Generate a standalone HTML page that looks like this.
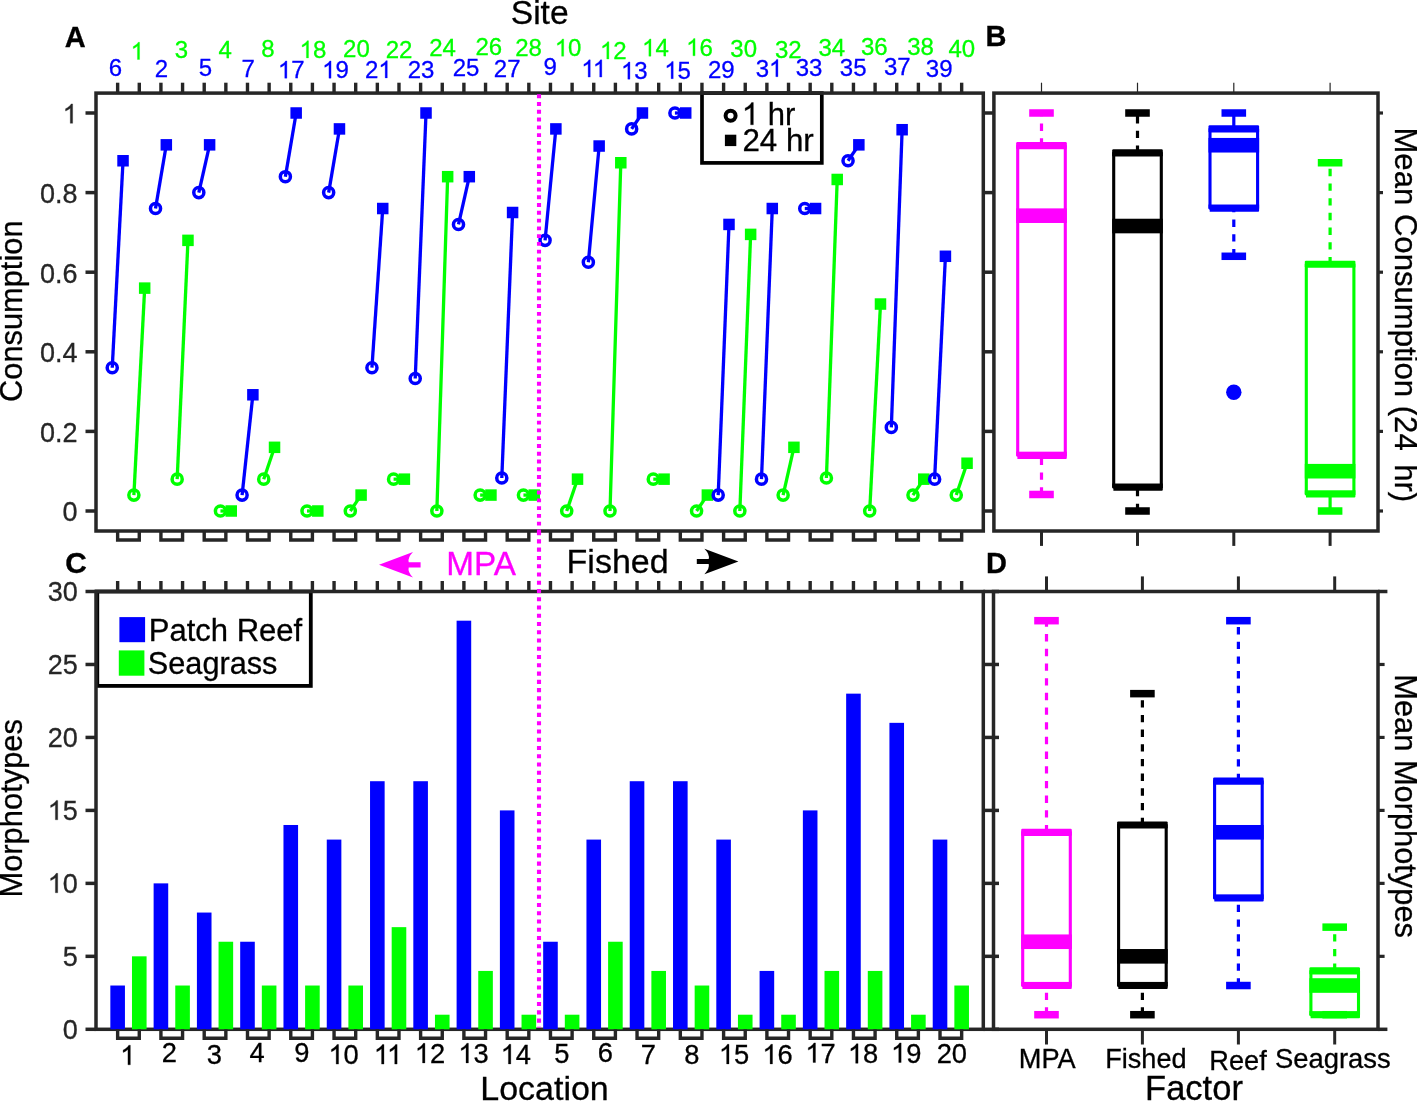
<!DOCTYPE html>
<html><head><meta charset="utf-8"><title>Figure</title>
<style>
html,body{margin:0;padding:0;background:#fff;}
body{width:1417px;height:1102px;overflow:hidden;font-family:"Liberation Sans",sans-serif;}
svg{display:block;will-change:transform;}
svg text{font-family:"Liberation Sans",sans-serif;}
</style></head><body>
<svg width="1417" height="1102" viewBox="0 0 1417 1102">
<rect x="0" y="0" width="1417" height="1102" fill="#ffffff"/>
<line x1="112.24" y1="367.72" x2="123.04" y2="160.76" stroke="#0000ff" stroke-width="3.3" />
<circle cx="112.24" cy="367.72" r="5.05" fill="none" stroke="#0000ff" stroke-width="3.5"/>
<rect x="117.29" y="155.01" width="11.50" height="11.50" fill="#0000ff" stroke="none" stroke-width="0" />
<line x1="133.88" y1="495.08" x2="144.68" y2="288.12" stroke="#00ff00" stroke-width="3.3" />
<circle cx="133.88" cy="495.08" r="5.05" fill="none" stroke="#00ff00" stroke-width="3.5"/>
<rect x="138.93" y="282.37" width="11.50" height="11.50" fill="#00ff00" stroke="none" stroke-width="0" />
<line x1="155.52" y1="208.52" x2="166.32" y2="144.84" stroke="#0000ff" stroke-width="3.3" />
<circle cx="155.52" cy="208.52" r="5.05" fill="none" stroke="#0000ff" stroke-width="3.5"/>
<rect x="160.57" y="139.09" width="11.50" height="11.50" fill="#0000ff" stroke="none" stroke-width="0" />
<line x1="177.17" y1="479.16" x2="187.97" y2="240.36" stroke="#00ff00" stroke-width="3.3" />
<circle cx="177.17" cy="479.16" r="5.05" fill="none" stroke="#00ff00" stroke-width="3.5"/>
<rect x="182.22" y="234.61" width="11.50" height="11.50" fill="#00ff00" stroke="none" stroke-width="0" />
<line x1="198.81" y1="192.60" x2="209.61" y2="144.84" stroke="#0000ff" stroke-width="3.3" />
<circle cx="198.81" cy="192.60" r="5.05" fill="none" stroke="#0000ff" stroke-width="3.5"/>
<rect x="203.86" y="139.09" width="11.50" height="11.50" fill="#0000ff" stroke="none" stroke-width="0" />
<line x1="220.45" y1="511.00" x2="231.25" y2="511.00" stroke="#00ff00" stroke-width="3.3" />
<circle cx="220.45" cy="511.00" r="5.05" fill="none" stroke="#00ff00" stroke-width="3.5"/>
<rect x="225.50" y="505.25" width="11.50" height="11.50" fill="#00ff00" stroke="none" stroke-width="0" />
<line x1="242.09" y1="495.08" x2="252.89" y2="394.78" stroke="#0000ff" stroke-width="3.3" />
<circle cx="242.09" cy="495.08" r="5.05" fill="none" stroke="#0000ff" stroke-width="3.5"/>
<rect x="247.14" y="389.03" width="11.50" height="11.50" fill="#0000ff" stroke="none" stroke-width="0" />
<line x1="263.73" y1="479.16" x2="274.53" y2="447.32" stroke="#00ff00" stroke-width="3.3" />
<circle cx="263.73" cy="479.16" r="5.05" fill="none" stroke="#00ff00" stroke-width="3.5"/>
<rect x="268.78" y="441.57" width="11.50" height="11.50" fill="#00ff00" stroke="none" stroke-width="0" />
<line x1="285.37" y1="176.68" x2="296.17" y2="113.00" stroke="#0000ff" stroke-width="3.3" />
<circle cx="285.37" cy="176.68" r="5.05" fill="none" stroke="#0000ff" stroke-width="3.5"/>
<rect x="290.42" y="107.25" width="11.50" height="11.50" fill="#0000ff" stroke="none" stroke-width="0" />
<line x1="307.01" y1="511.00" x2="317.81" y2="511.00" stroke="#00ff00" stroke-width="3.3" />
<circle cx="307.01" cy="511.00" r="5.05" fill="none" stroke="#00ff00" stroke-width="3.5"/>
<rect x="312.06" y="505.25" width="11.50" height="11.50" fill="#00ff00" stroke="none" stroke-width="0" />
<line x1="328.66" y1="192.60" x2="339.46" y2="128.92" stroke="#0000ff" stroke-width="3.3" />
<circle cx="328.66" cy="192.60" r="5.05" fill="none" stroke="#0000ff" stroke-width="3.5"/>
<rect x="333.71" y="123.17" width="11.50" height="11.50" fill="#0000ff" stroke="none" stroke-width="0" />
<line x1="350.30" y1="511.00" x2="361.10" y2="495.08" stroke="#00ff00" stroke-width="3.3" />
<circle cx="350.30" cy="511.00" r="5.05" fill="none" stroke="#00ff00" stroke-width="3.5"/>
<rect x="355.35" y="489.33" width="11.50" height="11.50" fill="#00ff00" stroke="none" stroke-width="0" />
<line x1="371.94" y1="367.72" x2="382.74" y2="208.52" stroke="#0000ff" stroke-width="3.3" />
<circle cx="371.94" cy="367.72" r="5.05" fill="none" stroke="#0000ff" stroke-width="3.5"/>
<rect x="376.99" y="202.77" width="11.50" height="11.50" fill="#0000ff" stroke="none" stroke-width="0" />
<line x1="393.58" y1="479.16" x2="404.38" y2="479.16" stroke="#00ff00" stroke-width="3.3" />
<circle cx="393.58" cy="479.16" r="5.05" fill="none" stroke="#00ff00" stroke-width="3.5"/>
<rect x="398.63" y="473.41" width="11.50" height="11.50" fill="#00ff00" stroke="none" stroke-width="0" />
<line x1="415.22" y1="378.47" x2="426.02" y2="113.00" stroke="#0000ff" stroke-width="3.3" />
<circle cx="415.22" cy="378.47" r="5.05" fill="none" stroke="#0000ff" stroke-width="3.5"/>
<rect x="420.27" y="107.25" width="11.50" height="11.50" fill="#0000ff" stroke="none" stroke-width="0" />
<line x1="436.86" y1="511.00" x2="447.66" y2="176.68" stroke="#00ff00" stroke-width="3.3" />
<circle cx="436.86" cy="511.00" r="5.05" fill="none" stroke="#00ff00" stroke-width="3.5"/>
<rect x="441.91" y="170.93" width="11.50" height="11.50" fill="#00ff00" stroke="none" stroke-width="0" />
<line x1="458.50" y1="224.44" x2="469.30" y2="176.68" stroke="#0000ff" stroke-width="3.3" />
<circle cx="458.50" cy="224.44" r="5.05" fill="none" stroke="#0000ff" stroke-width="3.5"/>
<rect x="463.55" y="170.93" width="11.50" height="11.50" fill="#0000ff" stroke="none" stroke-width="0" />
<line x1="480.15" y1="495.08" x2="490.95" y2="495.08" stroke="#00ff00" stroke-width="3.3" />
<circle cx="480.15" cy="495.08" r="5.05" fill="none" stroke="#00ff00" stroke-width="3.5"/>
<rect x="485.20" y="489.33" width="11.50" height="11.50" fill="#00ff00" stroke="none" stroke-width="0" />
<line x1="501.79" y1="477.97" x2="512.59" y2="212.50" stroke="#0000ff" stroke-width="3.3" />
<circle cx="501.79" cy="477.97" r="5.05" fill="none" stroke="#0000ff" stroke-width="3.5"/>
<rect x="506.84" y="206.75" width="11.50" height="11.50" fill="#0000ff" stroke="none" stroke-width="0" />
<line x1="523.43" y1="495.08" x2="534.23" y2="495.08" stroke="#00ff00" stroke-width="3.3" />
<circle cx="523.43" cy="495.08" r="5.05" fill="none" stroke="#00ff00" stroke-width="3.5"/>
<rect x="528.48" y="489.33" width="11.50" height="11.50" fill="#00ff00" stroke="none" stroke-width="0" />
<line x1="545.07" y1="240.36" x2="555.87" y2="128.92" stroke="#0000ff" stroke-width="3.3" />
<circle cx="545.07" cy="240.36" r="5.05" fill="none" stroke="#0000ff" stroke-width="3.5"/>
<rect x="550.12" y="123.17" width="11.50" height="11.50" fill="#0000ff" stroke="none" stroke-width="0" />
<line x1="566.71" y1="511.00" x2="577.51" y2="479.16" stroke="#00ff00" stroke-width="3.3" />
<circle cx="566.71" cy="511.00" r="5.05" fill="none" stroke="#00ff00" stroke-width="3.5"/>
<rect x="571.76" y="473.41" width="11.50" height="11.50" fill="#00ff00" stroke="none" stroke-width="0" />
<line x1="588.35" y1="262.25" x2="599.15" y2="146.03" stroke="#0000ff" stroke-width="3.3" />
<circle cx="588.35" cy="262.25" r="5.05" fill="none" stroke="#0000ff" stroke-width="3.5"/>
<rect x="593.40" y="140.28" width="11.50" height="11.50" fill="#0000ff" stroke="none" stroke-width="0" />
<line x1="610.00" y1="511.00" x2="620.80" y2="162.75" stroke="#00ff00" stroke-width="3.3" />
<circle cx="610.00" cy="511.00" r="5.05" fill="none" stroke="#00ff00" stroke-width="3.5"/>
<rect x="615.05" y="157.00" width="11.50" height="11.50" fill="#00ff00" stroke="none" stroke-width="0" />
<line x1="631.64" y1="128.92" x2="642.44" y2="113.00" stroke="#0000ff" stroke-width="3.3" />
<circle cx="631.64" cy="128.92" r="5.05" fill="none" stroke="#0000ff" stroke-width="3.5"/>
<rect x="636.69" y="107.25" width="11.50" height="11.50" fill="#0000ff" stroke="none" stroke-width="0" />
<line x1="653.28" y1="479.16" x2="664.08" y2="479.16" stroke="#00ff00" stroke-width="3.3" />
<circle cx="653.28" cy="479.16" r="5.05" fill="none" stroke="#00ff00" stroke-width="3.5"/>
<rect x="658.33" y="473.41" width="11.50" height="11.50" fill="#00ff00" stroke="none" stroke-width="0" />
<line x1="674.92" y1="113.00" x2="685.72" y2="113.00" stroke="#0000ff" stroke-width="3.3" />
<circle cx="674.92" cy="113.00" r="5.05" fill="none" stroke="#0000ff" stroke-width="3.5"/>
<rect x="679.97" y="107.25" width="11.50" height="11.50" fill="#0000ff" stroke="none" stroke-width="0" />
<line x1="696.56" y1="511.00" x2="707.36" y2="495.08" stroke="#00ff00" stroke-width="3.3" />
<circle cx="696.56" cy="511.00" r="5.05" fill="none" stroke="#00ff00" stroke-width="3.5"/>
<rect x="701.61" y="489.33" width="11.50" height="11.50" fill="#00ff00" stroke="none" stroke-width="0" />
<line x1="718.20" y1="495.08" x2="729.00" y2="224.44" stroke="#0000ff" stroke-width="3.3" />
<circle cx="718.20" cy="495.08" r="5.05" fill="none" stroke="#0000ff" stroke-width="3.5"/>
<rect x="723.25" y="218.69" width="11.50" height="11.50" fill="#0000ff" stroke="none" stroke-width="0" />
<line x1="739.84" y1="511.00" x2="750.64" y2="234.39" stroke="#00ff00" stroke-width="3.3" />
<circle cx="739.84" cy="511.00" r="5.05" fill="none" stroke="#00ff00" stroke-width="3.5"/>
<rect x="744.89" y="228.64" width="11.50" height="11.50" fill="#00ff00" stroke="none" stroke-width="0" />
<line x1="761.49" y1="479.16" x2="772.29" y2="208.52" stroke="#0000ff" stroke-width="3.3" />
<circle cx="761.49" cy="479.16" r="5.05" fill="none" stroke="#0000ff" stroke-width="3.5"/>
<rect x="766.54" y="202.77" width="11.50" height="11.50" fill="#0000ff" stroke="none" stroke-width="0" />
<line x1="783.13" y1="495.08" x2="793.93" y2="447.32" stroke="#00ff00" stroke-width="3.3" />
<circle cx="783.13" cy="495.08" r="5.05" fill="none" stroke="#00ff00" stroke-width="3.5"/>
<rect x="788.18" y="441.57" width="11.50" height="11.50" fill="#00ff00" stroke="none" stroke-width="0" />
<line x1="804.77" y1="208.52" x2="815.57" y2="208.52" stroke="#0000ff" stroke-width="3.3" />
<circle cx="804.77" cy="208.52" r="5.05" fill="none" stroke="#0000ff" stroke-width="3.5"/>
<rect x="809.82" y="202.77" width="11.50" height="11.50" fill="#0000ff" stroke="none" stroke-width="0" />
<line x1="826.41" y1="477.97" x2="837.21" y2="179.47" stroke="#00ff00" stroke-width="3.3" />
<circle cx="826.41" cy="477.97" r="5.05" fill="none" stroke="#00ff00" stroke-width="3.5"/>
<rect x="831.46" y="173.72" width="11.50" height="11.50" fill="#00ff00" stroke="none" stroke-width="0" />
<line x1="848.05" y1="160.76" x2="858.85" y2="144.84" stroke="#0000ff" stroke-width="3.3" />
<circle cx="848.05" cy="160.76" r="5.05" fill="none" stroke="#0000ff" stroke-width="3.5"/>
<rect x="853.10" y="139.09" width="11.50" height="11.50" fill="#0000ff" stroke="none" stroke-width="0" />
<line x1="869.69" y1="511.00" x2="880.49" y2="304.04" stroke="#00ff00" stroke-width="3.3" />
<circle cx="869.69" cy="511.00" r="5.05" fill="none" stroke="#00ff00" stroke-width="3.5"/>
<rect x="874.74" y="298.29" width="11.50" height="11.50" fill="#00ff00" stroke="none" stroke-width="0" />
<line x1="891.33" y1="427.42" x2="902.13" y2="129.72" stroke="#0000ff" stroke-width="3.3" />
<circle cx="891.33" cy="427.42" r="5.05" fill="none" stroke="#0000ff" stroke-width="3.5"/>
<rect x="896.38" y="123.97" width="11.50" height="11.50" fill="#0000ff" stroke="none" stroke-width="0" />
<line x1="912.98" y1="495.08" x2="923.78" y2="479.16" stroke="#00ff00" stroke-width="3.3" />
<circle cx="912.98" cy="495.08" r="5.05" fill="none" stroke="#00ff00" stroke-width="3.5"/>
<rect x="918.03" y="473.41" width="11.50" height="11.50" fill="#00ff00" stroke="none" stroke-width="0" />
<line x1="934.62" y1="479.16" x2="945.42" y2="256.28" stroke="#0000ff" stroke-width="3.3" />
<circle cx="934.62" cy="479.16" r="5.05" fill="none" stroke="#0000ff" stroke-width="3.5"/>
<rect x="939.67" y="250.53" width="11.50" height="11.50" fill="#0000ff" stroke="none" stroke-width="0" />
<line x1="956.26" y1="495.08" x2="967.06" y2="463.24" stroke="#00ff00" stroke-width="3.3" />
<circle cx="956.26" cy="495.08" r="5.05" fill="none" stroke="#00ff00" stroke-width="3.5"/>
<rect x="961.31" y="457.49" width="11.50" height="11.50" fill="#00ff00" stroke="none" stroke-width="0" />
<rect x="702.00" y="93.10" width="119.80" height="69.80" fill="#fff" stroke="#000000" stroke-width="3.7" />
<circle cx="730.6" cy="115.8" r="5.0" fill="none" stroke="#000000" stroke-width="4.0"/>
<rect x="724.90" y="134.70" width="11.40" height="11.40" fill="#000000" stroke="none" stroke-width="0" />
<path d="M763 0 H583 V1147 Q518 1085 412.5 1023 T223 930 V1104 Q374 1175 487 1276 T647 1472 H763 Z" transform="translate(741.80,124.80) scale(0.01514,-0.01514)" fill="#000000" stroke="#000000" stroke-width="19.8"/>
<text x="767.65" y="124.80" font-size="31" fill="#000000" text-anchor="start" font-weight="normal" stroke="#000000" stroke-width="0.3" >hr</text>
<text x="742.40" y="150.80" font-size="31.3" fill="#000000" text-anchor="start" font-weight="normal" stroke="#000000" stroke-width="0.3" >24 hr</text>
<rect x="96.00" y="93.10" width="887.30" height="437.90" fill="none" stroke="#262626" stroke-width="3.5" />
<line x1="117.64" y1="93.10" x2="117.64" y2="82.70" stroke="#262626" stroke-width="3.4" />
<line x1="139.28" y1="93.10" x2="139.28" y2="82.70" stroke="#262626" stroke-width="3.4" />
<line x1="160.92" y1="93.10" x2="160.92" y2="82.70" stroke="#262626" stroke-width="3.4" />
<line x1="182.57" y1="93.10" x2="182.57" y2="82.70" stroke="#262626" stroke-width="3.4" />
<line x1="204.21" y1="93.10" x2="204.21" y2="82.70" stroke="#262626" stroke-width="3.4" />
<line x1="225.85" y1="93.10" x2="225.85" y2="82.70" stroke="#262626" stroke-width="3.4" />
<line x1="247.49" y1="93.10" x2="247.49" y2="82.70" stroke="#262626" stroke-width="3.4" />
<line x1="269.13" y1="93.10" x2="269.13" y2="82.70" stroke="#262626" stroke-width="3.4" />
<line x1="290.77" y1="93.10" x2="290.77" y2="82.70" stroke="#262626" stroke-width="3.4" />
<line x1="312.41" y1="93.10" x2="312.41" y2="82.70" stroke="#262626" stroke-width="3.4" />
<line x1="334.06" y1="93.10" x2="334.06" y2="82.70" stroke="#262626" stroke-width="3.4" />
<line x1="355.70" y1="93.10" x2="355.70" y2="82.70" stroke="#262626" stroke-width="3.4" />
<line x1="377.34" y1="93.10" x2="377.34" y2="82.70" stroke="#262626" stroke-width="3.4" />
<line x1="398.98" y1="93.10" x2="398.98" y2="82.70" stroke="#262626" stroke-width="3.4" />
<line x1="420.62" y1="93.10" x2="420.62" y2="82.70" stroke="#262626" stroke-width="3.4" />
<line x1="442.26" y1="93.10" x2="442.26" y2="82.70" stroke="#262626" stroke-width="3.4" />
<line x1="463.90" y1="93.10" x2="463.90" y2="82.70" stroke="#262626" stroke-width="3.4" />
<line x1="485.55" y1="93.10" x2="485.55" y2="82.70" stroke="#262626" stroke-width="3.4" />
<line x1="507.19" y1="93.10" x2="507.19" y2="82.70" stroke="#262626" stroke-width="3.4" />
<line x1="528.83" y1="93.10" x2="528.83" y2="82.70" stroke="#262626" stroke-width="3.4" />
<line x1="550.47" y1="93.10" x2="550.47" y2="82.70" stroke="#262626" stroke-width="3.4" />
<line x1="572.11" y1="93.10" x2="572.11" y2="82.70" stroke="#262626" stroke-width="3.4" />
<line x1="593.75" y1="93.10" x2="593.75" y2="82.70" stroke="#262626" stroke-width="3.4" />
<line x1="615.40" y1="93.10" x2="615.40" y2="82.70" stroke="#262626" stroke-width="3.4" />
<line x1="637.04" y1="93.10" x2="637.04" y2="82.70" stroke="#262626" stroke-width="3.4" />
<line x1="658.68" y1="93.10" x2="658.68" y2="82.70" stroke="#262626" stroke-width="3.4" />
<line x1="680.32" y1="93.10" x2="680.32" y2="82.70" stroke="#262626" stroke-width="3.4" />
<line x1="701.96" y1="93.10" x2="701.96" y2="82.70" stroke="#262626" stroke-width="3.4" />
<line x1="723.60" y1="93.10" x2="723.60" y2="82.70" stroke="#262626" stroke-width="3.4" />
<line x1="745.24" y1="93.10" x2="745.24" y2="82.70" stroke="#262626" stroke-width="3.4" />
<line x1="766.89" y1="93.10" x2="766.89" y2="82.70" stroke="#262626" stroke-width="3.4" />
<line x1="788.53" y1="93.10" x2="788.53" y2="82.70" stroke="#262626" stroke-width="3.4" />
<line x1="810.17" y1="93.10" x2="810.17" y2="82.70" stroke="#262626" stroke-width="3.4" />
<line x1="831.81" y1="93.10" x2="831.81" y2="82.70" stroke="#262626" stroke-width="3.4" />
<line x1="853.45" y1="93.10" x2="853.45" y2="82.70" stroke="#262626" stroke-width="3.4" />
<line x1="875.09" y1="93.10" x2="875.09" y2="82.70" stroke="#262626" stroke-width="3.4" />
<line x1="896.73" y1="93.10" x2="896.73" y2="82.70" stroke="#262626" stroke-width="3.4" />
<line x1="918.38" y1="93.10" x2="918.38" y2="82.70" stroke="#262626" stroke-width="3.4" />
<line x1="940.02" y1="93.10" x2="940.02" y2="82.70" stroke="#262626" stroke-width="3.4" />
<line x1="961.66" y1="93.10" x2="961.66" y2="82.70" stroke="#262626" stroke-width="3.4" />
<path d="M117.64 531.00 V540.00 H139.28 V531.00" fill="none" stroke="#262626" stroke-width="3.4"/>
<path d="M160.92 531.00 V540.00 H182.57 V531.00" fill="none" stroke="#262626" stroke-width="3.4"/>
<path d="M204.21 531.00 V540.00 H225.85 V531.00" fill="none" stroke="#262626" stroke-width="3.4"/>
<path d="M247.49 531.00 V540.00 H269.13 V531.00" fill="none" stroke="#262626" stroke-width="3.4"/>
<path d="M290.77 531.00 V540.00 H312.41 V531.00" fill="none" stroke="#262626" stroke-width="3.4"/>
<path d="M334.06 531.00 V540.00 H355.70 V531.00" fill="none" stroke="#262626" stroke-width="3.4"/>
<path d="M377.34 531.00 V540.00 H398.98 V531.00" fill="none" stroke="#262626" stroke-width="3.4"/>
<path d="M420.62 531.00 V540.00 H442.26 V531.00" fill="none" stroke="#262626" stroke-width="3.4"/>
<path d="M463.90 531.00 V540.00 H485.55 V531.00" fill="none" stroke="#262626" stroke-width="3.4"/>
<path d="M507.19 531.00 V540.00 H528.83 V531.00" fill="none" stroke="#262626" stroke-width="3.4"/>
<path d="M550.47 531.00 V540.00 H572.11 V531.00" fill="none" stroke="#262626" stroke-width="3.4"/>
<path d="M593.75 531.00 V540.00 H615.40 V531.00" fill="none" stroke="#262626" stroke-width="3.4"/>
<path d="M637.04 531.00 V540.00 H658.68 V531.00" fill="none" stroke="#262626" stroke-width="3.4"/>
<path d="M680.32 531.00 V540.00 H701.96 V531.00" fill="none" stroke="#262626" stroke-width="3.4"/>
<path d="M723.60 531.00 V540.00 H745.24 V531.00" fill="none" stroke="#262626" stroke-width="3.4"/>
<path d="M766.89 531.00 V540.00 H788.53 V531.00" fill="none" stroke="#262626" stroke-width="3.4"/>
<path d="M810.17 531.00 V540.00 H831.81 V531.00" fill="none" stroke="#262626" stroke-width="3.4"/>
<path d="M853.45 531.00 V540.00 H875.09 V531.00" fill="none" stroke="#262626" stroke-width="3.4"/>
<path d="M896.73 531.00 V540.00 H918.38 V531.00" fill="none" stroke="#262626" stroke-width="3.4"/>
<path d="M940.02 531.00 V540.00 H961.66 V531.00" fill="none" stroke="#262626" stroke-width="3.4"/>
<line x1="96.00" y1="511.00" x2="85.50" y2="511.00" stroke="#262626" stroke-width="3.5" />
<text x="77.60" y="521.30" font-size="27" fill="#262626" text-anchor="end" font-weight="normal" stroke="#262626" stroke-width="0.3" >0</text>
<line x1="96.00" y1="431.40" x2="85.50" y2="431.40" stroke="#262626" stroke-width="3.5" />
<text x="77.60" y="441.70" font-size="27" fill="#262626" text-anchor="end" font-weight="normal" stroke="#262626" stroke-width="0.3" >0.2</text>
<line x1="96.00" y1="351.80" x2="85.50" y2="351.80" stroke="#262626" stroke-width="3.5" />
<text x="77.60" y="362.10" font-size="27" fill="#262626" text-anchor="end" font-weight="normal" stroke="#262626" stroke-width="0.3" >0.4</text>
<line x1="96.00" y1="272.20" x2="85.50" y2="272.20" stroke="#262626" stroke-width="3.5" />
<text x="77.60" y="282.50" font-size="27" fill="#262626" text-anchor="end" font-weight="normal" stroke="#262626" stroke-width="0.3" >0.6</text>
<line x1="96.00" y1="192.60" x2="85.50" y2="192.60" stroke="#262626" stroke-width="3.5" />
<text x="77.60" y="202.90" font-size="27" fill="#262626" text-anchor="end" font-weight="normal" stroke="#262626" stroke-width="0.3" >0.8</text>
<line x1="96.00" y1="113.00" x2="85.50" y2="113.00" stroke="#262626" stroke-width="3.5" />
<path d="M763 0 H583 V1147 Q518 1085 412.5 1023 T223 930 V1104 Q374 1175 487 1276 T647 1472 H763 Z" transform="translate(62.59,123.30) scale(0.01318,-0.01318)" fill="#262626" stroke="#262626" stroke-width="22.8"/>
<text x="115.44" y="76.10" font-size="24" fill="#0000ff" text-anchor="middle" font-weight="normal" stroke="#0000ff" stroke-width="0.3" >6</text>
<text x="161.42" y="76.70" font-size="24" fill="#0000ff" text-anchor="middle" font-weight="normal" stroke="#0000ff" stroke-width="0.3" >2</text>
<text x="205.31" y="76.10" font-size="24" fill="#0000ff" text-anchor="middle" font-weight="normal" stroke="#0000ff" stroke-width="0.3" >5</text>
<text x="248.09" y="77.10" font-size="24" fill="#0000ff" text-anchor="middle" font-weight="normal" stroke="#0000ff" stroke-width="0.3" >7</text>
<path d="M763 0 H583 V1147 Q518 1085 412.5 1023 T223 930 V1104 Q374 1175 487 1276 T647 1472 H763 Z" transform="translate(277.93,78.20) scale(0.01172,-0.01172)" fill="#0000ff" stroke="#0000ff" stroke-width="25.6"/>
<text x="291.27" y="78.20" font-size="24" fill="#0000ff" text-anchor="start" font-weight="normal" stroke="#0000ff" stroke-width="0.3" >7</text>
<path d="M763 0 H583 V1147 Q518 1085 412.5 1023 T223 930 V1104 Q374 1175 487 1276 T647 1472 H763 Z" transform="translate(322.11,78.20) scale(0.01172,-0.01172)" fill="#0000ff" stroke="#0000ff" stroke-width="25.6"/>
<text x="335.46" y="78.20" font-size="24" fill="#0000ff" text-anchor="start" font-weight="normal" stroke="#0000ff" stroke-width="0.3" >9</text>
<text x="365.00" y="77.90" font-size="24" fill="#0000ff" text-anchor="start" font-weight="normal" stroke="#0000ff" stroke-width="0.3" >2</text>
<path d="M763 0 H583 V1147 Q518 1085 412.5 1023 T223 930 V1104 Q374 1175 487 1276 T647 1472 H763 Z" transform="translate(378.34,77.90) scale(0.01172,-0.01172)" fill="#0000ff" stroke="#0000ff" stroke-width="25.6"/>
<text x="421.12" y="77.80" font-size="24" fill="#0000ff" text-anchor="middle" font-weight="normal" stroke="#0000ff" stroke-width="0.3" >23</text>
<text x="466.00" y="76.10" font-size="24" fill="#0000ff" text-anchor="middle" font-weight="normal" stroke="#0000ff" stroke-width="0.3" >25</text>
<text x="507.19" y="76.70" font-size="24" fill="#0000ff" text-anchor="middle" font-weight="normal" stroke="#0000ff" stroke-width="0.3" >27</text>
<text x="550.17" y="75.40" font-size="24" fill="#0000ff" text-anchor="middle" font-weight="normal" stroke="#0000ff" stroke-width="0.3" >9</text>
<path d="M763 0 H583 V1147 Q518 1085 412.5 1023 T223 930 V1104 Q374 1175 487 1276 T647 1472 H763 Z" transform="translate(581.30,77.10) scale(0.01172,-0.01172)" fill="#0000ff" stroke="#0000ff" stroke-width="25.6"/>
<path d="M763 0 H583 V1147 Q518 1085 412.5 1023 T223 930 V1104 Q374 1175 487 1276 T647 1472 H763 Z" transform="translate(592.87,77.10) scale(0.01172,-0.01172)" fill="#0000ff" stroke="#0000ff" stroke-width="25.6"/>
<path d="M763 0 H583 V1147 Q518 1085 412.5 1023 T223 930 V1104 Q374 1175 487 1276 T647 1472 H763 Z" transform="translate(620.99,79.20) scale(0.01172,-0.01172)" fill="#0000ff" stroke="#0000ff" stroke-width="25.6"/>
<text x="634.34" y="79.20" font-size="24" fill="#0000ff" text-anchor="start" font-weight="normal" stroke="#0000ff" stroke-width="0.3" >3</text>
<path d="M763 0 H583 V1147 Q518 1085 412.5 1023 T223 930 V1104 Q374 1175 487 1276 T647 1472 H763 Z" transform="translate(664.28,78.70) scale(0.01172,-0.01172)" fill="#0000ff" stroke="#0000ff" stroke-width="25.6"/>
<text x="677.62" y="78.70" font-size="24" fill="#0000ff" text-anchor="start" font-weight="normal" stroke="#0000ff" stroke-width="0.3" >5</text>
<text x="721.30" y="77.50" font-size="24" fill="#0000ff" text-anchor="middle" font-weight="normal" stroke="#0000ff" stroke-width="0.3" >29</text>
<text x="755.64" y="76.70" font-size="24" fill="#0000ff" text-anchor="start" font-weight="normal" stroke="#0000ff" stroke-width="0.3" >3</text>
<path d="M763 0 H583 V1147 Q518 1085 412.5 1023 T223 930 V1104 Q374 1175 487 1276 T647 1472 H763 Z" transform="translate(768.99,76.70) scale(0.01172,-0.01172)" fill="#0000ff" stroke="#0000ff" stroke-width="25.6"/>
<text x="809.07" y="76.10" font-size="24" fill="#0000ff" text-anchor="middle" font-weight="normal" stroke="#0000ff" stroke-width="0.3" >33</text>
<text x="853.15" y="76.10" font-size="24" fill="#0000ff" text-anchor="middle" font-weight="normal" stroke="#0000ff" stroke-width="0.3" >35</text>
<text x="897.23" y="75.40" font-size="24" fill="#0000ff" text-anchor="middle" font-weight="normal" stroke="#0000ff" stroke-width="0.3" >37</text>
<text x="939.22" y="77.10" font-size="24" fill="#0000ff" text-anchor="middle" font-weight="normal" stroke="#0000ff" stroke-width="0.3" >39</text>
<path d="M763 0 H583 V1147 Q518 1085 412.5 1023 T223 930 V1104 Q374 1175 487 1276 T647 1472 H763 Z" transform="translate(130.61,59.50) scale(0.01172,-0.01172)" fill="#00ff00" stroke="#00ff00" stroke-width="25.6"/>
<text x="181.47" y="57.50" font-size="24" fill="#00ff00" text-anchor="middle" font-weight="normal" stroke="#00ff00" stroke-width="0.3" >3</text>
<text x="225.15" y="57.50" font-size="24" fill="#00ff00" text-anchor="middle" font-weight="normal" stroke="#00ff00" stroke-width="0.3" >4</text>
<text x="267.83" y="56.90" font-size="24" fill="#00ff00" text-anchor="middle" font-weight="normal" stroke="#00ff00" stroke-width="0.3" >8</text>
<path d="M763 0 H583 V1147 Q518 1085 412.5 1023 T223 930 V1104 Q374 1175 487 1276 T647 1472 H763 Z" transform="translate(299.57,57.90) scale(0.01172,-0.01172)" fill="#00ff00" stroke="#00ff00" stroke-width="25.6"/>
<text x="312.91" y="57.90" font-size="24" fill="#00ff00" text-anchor="start" font-weight="normal" stroke="#00ff00" stroke-width="0.3" >8</text>
<text x="356.40" y="56.90" font-size="24" fill="#00ff00" text-anchor="middle" font-weight="normal" stroke="#00ff00" stroke-width="0.3" >20</text>
<text x="398.98" y="57.50" font-size="24" fill="#00ff00" text-anchor="middle" font-weight="normal" stroke="#00ff00" stroke-width="0.3" >22</text>
<text x="442.56" y="55.80" font-size="24" fill="#00ff00" text-anchor="middle" font-weight="normal" stroke="#00ff00" stroke-width="0.3" >24</text>
<text x="488.75" y="55.40" font-size="24" fill="#00ff00" text-anchor="middle" font-weight="normal" stroke="#00ff00" stroke-width="0.3" >26</text>
<text x="528.53" y="56.20" font-size="24" fill="#00ff00" text-anchor="middle" font-weight="normal" stroke="#00ff00" stroke-width="0.3" >28</text>
<path d="M763 0 H583 V1147 Q518 1085 412.5 1023 T223 930 V1104 Q374 1175 487 1276 T647 1472 H763 Z" transform="translate(554.77,56.20) scale(0.01172,-0.01172)" fill="#00ff00" stroke="#00ff00" stroke-width="25.6"/>
<text x="568.11" y="56.20" font-size="24" fill="#00ff00" text-anchor="start" font-weight="normal" stroke="#00ff00" stroke-width="0.3" >0</text>
<path d="M763 0 H583 V1147 Q518 1085 412.5 1023 T223 930 V1104 Q374 1175 487 1276 T647 1472 H763 Z" transform="translate(599.95,59.00) scale(0.01172,-0.01172)" fill="#00ff00" stroke="#00ff00" stroke-width="25.6"/>
<text x="613.30" y="59.00" font-size="24" fill="#00ff00" text-anchor="start" font-weight="normal" stroke="#00ff00" stroke-width="0.3" >2</text>
<path d="M763 0 H583 V1147 Q518 1085 412.5 1023 T223 930 V1104 Q374 1175 487 1276 T647 1472 H763 Z" transform="translate(642.03,56.20) scale(0.01172,-0.01172)" fill="#00ff00" stroke="#00ff00" stroke-width="25.6"/>
<text x="655.38" y="56.20" font-size="24" fill="#00ff00" text-anchor="start" font-weight="normal" stroke="#00ff00" stroke-width="0.3" >4</text>
<path d="M763 0 H583 V1147 Q518 1085 412.5 1023 T223 930 V1104 Q374 1175 487 1276 T647 1472 H763 Z" transform="translate(686.12,55.80) scale(0.01172,-0.01172)" fill="#00ff00" stroke="#00ff00" stroke-width="25.6"/>
<text x="699.46" y="55.80" font-size="24" fill="#00ff00" text-anchor="start" font-weight="normal" stroke="#00ff00" stroke-width="0.3" >6</text>
<text x="743.64" y="56.90" font-size="24" fill="#00ff00" text-anchor="middle" font-weight="normal" stroke="#00ff00" stroke-width="0.3" >30</text>
<text x="788.33" y="57.50" font-size="24" fill="#00ff00" text-anchor="middle" font-weight="normal" stroke="#00ff00" stroke-width="0.3" >32</text>
<text x="831.81" y="56.20" font-size="24" fill="#00ff00" text-anchor="middle" font-weight="normal" stroke="#00ff00" stroke-width="0.3" >34</text>
<text x="874.29" y="54.70" font-size="24" fill="#00ff00" text-anchor="middle" font-weight="normal" stroke="#00ff00" stroke-width="0.3" >36</text>
<text x="920.48" y="54.70" font-size="24" fill="#00ff00" text-anchor="middle" font-weight="normal" stroke="#00ff00" stroke-width="0.3" >38</text>
<text x="961.86" y="56.90" font-size="24" fill="#00ff00" text-anchor="middle" font-weight="normal" stroke="#00ff00" stroke-width="0.3" >40</text>
<text x="539.70" y="23.80" font-size="33.6" fill="#000000" text-anchor="middle" font-weight="normal" stroke="#000000" stroke-width="0.3" >Site</text>
<text x="75.20" y="46.60" font-size="29" fill="#000000" text-anchor="middle" font-weight="bold" stroke="#000000" stroke-width="0.3" >A</text>
<text x="995.90" y="46.40" font-size="29" fill="#000000" text-anchor="middle" font-weight="bold" stroke="#000000" stroke-width="0.3" >B</text>
<text x="75.90" y="573.00" font-size="29.8" fill="#000000" text-anchor="middle" font-weight="bold" stroke="#000000" stroke-width="0.3" >C</text>
<text x="996.50" y="573.00" font-size="29" fill="#000000" text-anchor="middle" font-weight="bold" stroke="#000000" stroke-width="0.3" >D</text>
<text x="0.00" y="0.00" font-size="30.8" fill="#000000" text-anchor="middle" font-weight="normal" stroke="#000000" stroke-width="0.3" transform="translate(22.0,311.2) rotate(-90)">Consumption</text>
<text x="0.00" y="0.00" font-size="30.9" fill="#000000" text-anchor="middle" font-weight="normal" stroke="#000000" stroke-width="0.3" transform="translate(22.3,808.3) rotate(-90)">Morphotypes</text>
<text x="0.00" y="0.00" font-size="31.1" fill="#000000" text-anchor="middle" font-weight="normal" stroke="#000000" stroke-width="0.3" transform="translate(1394.8,314.8) rotate(90)">Mean Consumption (24<tspan dx="4.8"> hr)</tspan></text>
<text x="0.00" y="0.00" font-size="30.8" fill="#000000" text-anchor="middle" font-weight="normal" stroke="#000000" stroke-width="0.3" transform="translate(1395.3,806.1) rotate(90)">Mean Morphotypes</text>
<text x="481.00" y="574.50" font-size="33.3" fill="#ff00ff" text-anchor="middle" font-weight="normal" stroke="#ff00ff" stroke-width="0.3" >MPA</text>
<text x="617.60" y="572.90" font-size="34.0" fill="#000000" text-anchor="middle" font-weight="normal" stroke="#000000" stroke-width="0.3" >Fished</text>
<path d="M379.00 564.80 L413.00 552.10 Q407.50 557.80 408.70 562.20 L420.60 562.20 L420.60 567.40 L408.70 567.40 Q407.50 571.80 413.00 577.50 Z" fill="#ff00ff"/>
<path d="M738.40 561.50 L704.40 548.80 Q709.90 554.50 708.70 558.90 L696.80 558.90 L696.80 564.10 L708.70 564.10 Q709.90 568.50 704.40 574.20 Z" fill="#000000"/>
<rect x="97.30" y="591.50" width="213.50" height="94.40" fill="#fff" stroke="#000000" stroke-width="3.8" />
<rect x="119.40" y="617.10" width="25.70" height="25.10" fill="#0000ff" stroke="none" stroke-width="0" />
<rect x="118.80" y="650.40" width="25.60" height="25.30" fill="#00ff00" stroke="none" stroke-width="0" />
<text x="148.80" y="641.40" font-size="31" fill="#000000" text-anchor="start" font-weight="normal" stroke="#000000" stroke-width="0.3" >Patch Reef</text>
<text x="147.80" y="673.90" font-size="30.7" fill="#000000" text-anchor="start" font-weight="normal" stroke="#000000" stroke-width="0.3" >Seagrass</text>
<rect x="96.00" y="591.50" width="887.30" height="437.80" fill="none" stroke="#262626" stroke-width="3.5" />
<rect x="110.34" y="985.52" width="14.60" height="43.78" fill="#0000ff" stroke="none" stroke-width="0" />
<rect x="131.98" y="956.33" width="14.60" height="72.97" fill="#00ff00" stroke="none" stroke-width="0" />
<rect x="153.62" y="883.37" width="14.60" height="145.93" fill="#0000ff" stroke="none" stroke-width="0" />
<rect x="175.27" y="985.52" width="14.60" height="43.78" fill="#00ff00" stroke="none" stroke-width="0" />
<rect x="196.91" y="912.55" width="14.60" height="116.75" fill="#0000ff" stroke="none" stroke-width="0" />
<rect x="218.55" y="941.74" width="14.60" height="87.56" fill="#00ff00" stroke="none" stroke-width="0" />
<rect x="240.19" y="941.74" width="14.60" height="87.56" fill="#0000ff" stroke="none" stroke-width="0" />
<rect x="261.83" y="985.52" width="14.60" height="43.78" fill="#00ff00" stroke="none" stroke-width="0" />
<rect x="283.47" y="824.99" width="14.60" height="204.31" fill="#0000ff" stroke="none" stroke-width="0" />
<rect x="305.11" y="985.52" width="14.60" height="43.78" fill="#00ff00" stroke="none" stroke-width="0" />
<rect x="326.76" y="839.59" width="14.60" height="189.71" fill="#0000ff" stroke="none" stroke-width="0" />
<rect x="348.40" y="985.52" width="14.60" height="43.78" fill="#00ff00" stroke="none" stroke-width="0" />
<rect x="370.04" y="781.21" width="14.60" height="248.09" fill="#0000ff" stroke="none" stroke-width="0" />
<rect x="391.68" y="927.15" width="14.60" height="102.15" fill="#00ff00" stroke="none" stroke-width="0" />
<rect x="413.32" y="781.21" width="14.60" height="248.09" fill="#0000ff" stroke="none" stroke-width="0" />
<rect x="434.96" y="1014.71" width="14.60" height="14.59" fill="#00ff00" stroke="none" stroke-width="0" />
<rect x="456.60" y="620.69" width="14.60" height="408.61" fill="#0000ff" stroke="none" stroke-width="0" />
<rect x="478.25" y="970.93" width="14.60" height="58.37" fill="#00ff00" stroke="none" stroke-width="0" />
<rect x="499.89" y="810.40" width="14.60" height="218.90" fill="#0000ff" stroke="none" stroke-width="0" />
<rect x="521.53" y="1014.71" width="14.60" height="14.59" fill="#00ff00" stroke="none" stroke-width="0" />
<rect x="543.17" y="941.74" width="14.60" height="87.56" fill="#0000ff" stroke="none" stroke-width="0" />
<rect x="564.81" y="1014.71" width="14.60" height="14.59" fill="#00ff00" stroke="none" stroke-width="0" />
<rect x="586.45" y="839.59" width="14.60" height="189.71" fill="#0000ff" stroke="none" stroke-width="0" />
<rect x="608.10" y="941.74" width="14.60" height="87.56" fill="#00ff00" stroke="none" stroke-width="0" />
<rect x="629.74" y="781.21" width="14.60" height="248.09" fill="#0000ff" stroke="none" stroke-width="0" />
<rect x="651.38" y="970.93" width="14.60" height="58.37" fill="#00ff00" stroke="none" stroke-width="0" />
<rect x="673.02" y="781.21" width="14.60" height="248.09" fill="#0000ff" stroke="none" stroke-width="0" />
<rect x="694.66" y="985.52" width="14.60" height="43.78" fill="#00ff00" stroke="none" stroke-width="0" />
<rect x="716.30" y="839.59" width="14.60" height="189.71" fill="#0000ff" stroke="none" stroke-width="0" />
<rect x="737.94" y="1014.71" width="14.60" height="14.59" fill="#00ff00" stroke="none" stroke-width="0" />
<rect x="759.59" y="970.93" width="14.60" height="58.37" fill="#0000ff" stroke="none" stroke-width="0" />
<rect x="781.23" y="1014.71" width="14.60" height="14.59" fill="#00ff00" stroke="none" stroke-width="0" />
<rect x="802.87" y="810.40" width="14.60" height="218.90" fill="#0000ff" stroke="none" stroke-width="0" />
<rect x="824.51" y="970.93" width="14.60" height="58.37" fill="#00ff00" stroke="none" stroke-width="0" />
<rect x="846.15" y="693.65" width="14.60" height="335.65" fill="#0000ff" stroke="none" stroke-width="0" />
<rect x="867.79" y="970.93" width="14.60" height="58.37" fill="#00ff00" stroke="none" stroke-width="0" />
<rect x="889.43" y="722.84" width="14.60" height="306.46" fill="#0000ff" stroke="none" stroke-width="0" />
<rect x="911.08" y="1014.71" width="14.60" height="14.59" fill="#00ff00" stroke="none" stroke-width="0" />
<rect x="932.72" y="839.59" width="14.60" height="189.71" fill="#0000ff" stroke="none" stroke-width="0" />
<rect x="954.36" y="985.52" width="14.60" height="43.78" fill="#00ff00" stroke="none" stroke-width="0" />
<line x1="117.64" y1="591.50" x2="117.64" y2="581.00" stroke="#262626" stroke-width="3.4" />
<line x1="139.28" y1="591.50" x2="139.28" y2="581.00" stroke="#262626" stroke-width="3.4" />
<line x1="160.92" y1="591.50" x2="160.92" y2="581.00" stroke="#262626" stroke-width="3.4" />
<line x1="182.57" y1="591.50" x2="182.57" y2="581.00" stroke="#262626" stroke-width="3.4" />
<line x1="204.21" y1="591.50" x2="204.21" y2="581.00" stroke="#262626" stroke-width="3.4" />
<line x1="225.85" y1="591.50" x2="225.85" y2="581.00" stroke="#262626" stroke-width="3.4" />
<line x1="247.49" y1="591.50" x2="247.49" y2="581.00" stroke="#262626" stroke-width="3.4" />
<line x1="269.13" y1="591.50" x2="269.13" y2="581.00" stroke="#262626" stroke-width="3.4" />
<line x1="290.77" y1="591.50" x2="290.77" y2="581.00" stroke="#262626" stroke-width="3.4" />
<line x1="312.41" y1="591.50" x2="312.41" y2="581.00" stroke="#262626" stroke-width="3.4" />
<line x1="334.06" y1="591.50" x2="334.06" y2="581.00" stroke="#262626" stroke-width="3.4" />
<line x1="355.70" y1="591.50" x2="355.70" y2="581.00" stroke="#262626" stroke-width="3.4" />
<line x1="377.34" y1="591.50" x2="377.34" y2="581.00" stroke="#262626" stroke-width="3.4" />
<line x1="398.98" y1="591.50" x2="398.98" y2="581.00" stroke="#262626" stroke-width="3.4" />
<line x1="420.62" y1="591.50" x2="420.62" y2="581.00" stroke="#262626" stroke-width="3.4" />
<line x1="442.26" y1="591.50" x2="442.26" y2="581.00" stroke="#262626" stroke-width="3.4" />
<line x1="463.90" y1="591.50" x2="463.90" y2="581.00" stroke="#262626" stroke-width="3.4" />
<line x1="485.55" y1="591.50" x2="485.55" y2="581.00" stroke="#262626" stroke-width="3.4" />
<line x1="507.19" y1="591.50" x2="507.19" y2="581.00" stroke="#262626" stroke-width="3.4" />
<line x1="528.83" y1="591.50" x2="528.83" y2="581.00" stroke="#262626" stroke-width="3.4" />
<line x1="550.47" y1="591.50" x2="550.47" y2="581.00" stroke="#262626" stroke-width="3.4" />
<line x1="572.11" y1="591.50" x2="572.11" y2="581.00" stroke="#262626" stroke-width="3.4" />
<line x1="593.75" y1="591.50" x2="593.75" y2="581.00" stroke="#262626" stroke-width="3.4" />
<line x1="615.40" y1="591.50" x2="615.40" y2="581.00" stroke="#262626" stroke-width="3.4" />
<line x1="637.04" y1="591.50" x2="637.04" y2="581.00" stroke="#262626" stroke-width="3.4" />
<line x1="658.68" y1="591.50" x2="658.68" y2="581.00" stroke="#262626" stroke-width="3.4" />
<line x1="680.32" y1="591.50" x2="680.32" y2="581.00" stroke="#262626" stroke-width="3.4" />
<line x1="701.96" y1="591.50" x2="701.96" y2="581.00" stroke="#262626" stroke-width="3.4" />
<line x1="723.60" y1="591.50" x2="723.60" y2="581.00" stroke="#262626" stroke-width="3.4" />
<line x1="745.24" y1="591.50" x2="745.24" y2="581.00" stroke="#262626" stroke-width="3.4" />
<line x1="766.89" y1="591.50" x2="766.89" y2="581.00" stroke="#262626" stroke-width="3.4" />
<line x1="788.53" y1="591.50" x2="788.53" y2="581.00" stroke="#262626" stroke-width="3.4" />
<line x1="810.17" y1="591.50" x2="810.17" y2="581.00" stroke="#262626" stroke-width="3.4" />
<line x1="831.81" y1="591.50" x2="831.81" y2="581.00" stroke="#262626" stroke-width="3.4" />
<line x1="853.45" y1="591.50" x2="853.45" y2="581.00" stroke="#262626" stroke-width="3.4" />
<line x1="875.09" y1="591.50" x2="875.09" y2="581.00" stroke="#262626" stroke-width="3.4" />
<line x1="896.73" y1="591.50" x2="896.73" y2="581.00" stroke="#262626" stroke-width="3.4" />
<line x1="918.38" y1="591.50" x2="918.38" y2="581.00" stroke="#262626" stroke-width="3.4" />
<line x1="940.02" y1="591.50" x2="940.02" y2="581.00" stroke="#262626" stroke-width="3.4" />
<line x1="961.66" y1="591.50" x2="961.66" y2="581.00" stroke="#262626" stroke-width="3.4" />
<path d="M117.64 1029.30 V1038.30 H139.28 V1029.30" fill="none" stroke="#262626" stroke-width="3.4"/>
<path d="M160.92 1029.30 V1038.30 H182.57 V1029.30" fill="none" stroke="#262626" stroke-width="3.4"/>
<path d="M204.21 1029.30 V1038.30 H225.85 V1029.30" fill="none" stroke="#262626" stroke-width="3.4"/>
<path d="M247.49 1029.30 V1038.30 H269.13 V1029.30" fill="none" stroke="#262626" stroke-width="3.4"/>
<path d="M290.77 1029.30 V1038.30 H312.41 V1029.30" fill="none" stroke="#262626" stroke-width="3.4"/>
<path d="M334.06 1029.30 V1038.30 H355.70 V1029.30" fill="none" stroke="#262626" stroke-width="3.4"/>
<path d="M377.34 1029.30 V1038.30 H398.98 V1029.30" fill="none" stroke="#262626" stroke-width="3.4"/>
<path d="M420.62 1029.30 V1038.30 H442.26 V1029.30" fill="none" stroke="#262626" stroke-width="3.4"/>
<path d="M463.90 1029.30 V1038.30 H485.55 V1029.30" fill="none" stroke="#262626" stroke-width="3.4"/>
<path d="M507.19 1029.30 V1038.30 H528.83 V1029.30" fill="none" stroke="#262626" stroke-width="3.4"/>
<path d="M550.47 1029.30 V1038.30 H572.11 V1029.30" fill="none" stroke="#262626" stroke-width="3.4"/>
<path d="M593.75 1029.30 V1038.30 H615.40 V1029.30" fill="none" stroke="#262626" stroke-width="3.4"/>
<path d="M637.04 1029.30 V1038.30 H658.68 V1029.30" fill="none" stroke="#262626" stroke-width="3.4"/>
<path d="M680.32 1029.30 V1038.30 H701.96 V1029.30" fill="none" stroke="#262626" stroke-width="3.4"/>
<path d="M723.60 1029.30 V1038.30 H745.24 V1029.30" fill="none" stroke="#262626" stroke-width="3.4"/>
<path d="M766.89 1029.30 V1038.30 H788.53 V1029.30" fill="none" stroke="#262626" stroke-width="3.4"/>
<path d="M810.17 1029.30 V1038.30 H831.81 V1029.30" fill="none" stroke="#262626" stroke-width="3.4"/>
<path d="M853.45 1029.30 V1038.30 H875.09 V1029.30" fill="none" stroke="#262626" stroke-width="3.4"/>
<path d="M896.73 1029.30 V1038.30 H918.38 V1029.30" fill="none" stroke="#262626" stroke-width="3.4"/>
<path d="M940.02 1029.30 V1038.30 H961.66 V1029.30" fill="none" stroke="#262626" stroke-width="3.4"/>
<line x1="96.00" y1="1029.30" x2="85.50" y2="1029.30" stroke="#262626" stroke-width="3.5" />
<text x="77.70" y="1038.70" font-size="27" fill="#262626" text-anchor="end" font-weight="normal" stroke="#262626" stroke-width="0.3" >0</text>
<line x1="96.00" y1="956.33" x2="85.50" y2="956.33" stroke="#262626" stroke-width="3.5" />
<text x="77.70" y="965.73" font-size="27" fill="#262626" text-anchor="end" font-weight="normal" stroke="#262626" stroke-width="0.3" >5</text>
<line x1="96.00" y1="883.37" x2="85.50" y2="883.37" stroke="#262626" stroke-width="3.5" />
<path d="M763 0 H583 V1147 Q518 1085 412.5 1023 T223 930 V1104 Q374 1175 487 1276 T647 1472 H763 Z" transform="translate(47.68,892.77) scale(0.01318,-0.01318)" fill="#262626" stroke="#262626" stroke-width="22.8"/>
<text x="62.69" y="892.77" font-size="27" fill="#262626" text-anchor="start" font-weight="normal" stroke="#262626" stroke-width="0.3" >0</text>
<line x1="96.00" y1="810.40" x2="85.50" y2="810.40" stroke="#262626" stroke-width="3.5" />
<path d="M763 0 H583 V1147 Q518 1085 412.5 1023 T223 930 V1104 Q374 1175 487 1276 T647 1472 H763 Z" transform="translate(47.68,819.80) scale(0.01318,-0.01318)" fill="#262626" stroke="#262626" stroke-width="22.8"/>
<text x="62.69" y="819.80" font-size="27" fill="#262626" text-anchor="start" font-weight="normal" stroke="#262626" stroke-width="0.3" >5</text>
<line x1="96.00" y1="737.43" x2="85.50" y2="737.43" stroke="#262626" stroke-width="3.5" />
<text x="77.70" y="746.83" font-size="27" fill="#262626" text-anchor="end" font-weight="normal" stroke="#262626" stroke-width="0.3" >20</text>
<line x1="96.00" y1="664.47" x2="85.50" y2="664.47" stroke="#262626" stroke-width="3.5" />
<text x="77.70" y="673.87" font-size="27" fill="#262626" text-anchor="end" font-weight="normal" stroke="#262626" stroke-width="0.3" >25</text>
<line x1="96.00" y1="591.50" x2="85.50" y2="591.50" stroke="#262626" stroke-width="3.5" />
<text x="77.70" y="600.90" font-size="27" fill="#262626" text-anchor="end" font-weight="normal" stroke="#262626" stroke-width="0.3" >30</text>
<path d="M763 0 H583 V1147 Q518 1085 412.5 1023 T223 930 V1104 Q374 1175 487 1276 T647 1472 H763 Z" transform="translate(120.17,1064.80) scale(0.01333,-0.01333)" fill="#000000" stroke="#000000" stroke-width="22.5"/>
<text x="169.35" y="1062.10" font-size="27.3" fill="#000000" text-anchor="middle" font-weight="normal" stroke="#000000" stroke-width="0.3" >2</text>
<text x="214.33" y="1064.10" font-size="27.3" fill="#000000" text-anchor="middle" font-weight="normal" stroke="#000000" stroke-width="0.3" >3</text>
<text x="257.21" y="1062.10" font-size="27.3" fill="#000000" text-anchor="middle" font-weight="normal" stroke="#000000" stroke-width="0.3" >4</text>
<text x="301.89" y="1062.30" font-size="27.3" fill="#000000" text-anchor="middle" font-weight="normal" stroke="#000000" stroke-width="0.3" >9</text>
<path d="M763 0 H583 V1147 Q518 1085 412.5 1023 T223 930 V1104 Q374 1175 487 1276 T647 1472 H763 Z" transform="translate(328.40,1064.10) scale(0.01333,-0.01333)" fill="#000000" stroke="#000000" stroke-width="22.5"/>
<text x="343.58" y="1064.10" font-size="27.3" fill="#000000" text-anchor="start" font-weight="normal" stroke="#000000" stroke-width="0.3" >0</text>
<path d="M763 0 H583 V1147 Q518 1085 412.5 1023 T223 930 V1104 Q374 1175 487 1276 T647 1472 H763 Z" transform="translate(373.79,1064.10) scale(0.01333,-0.01333)" fill="#000000" stroke="#000000" stroke-width="22.5"/>
<path d="M763 0 H583 V1147 Q518 1085 412.5 1023 T223 930 V1104 Q374 1175 487 1276 T647 1472 H763 Z" transform="translate(386.95,1064.10) scale(0.01333,-0.01333)" fill="#000000" stroke="#000000" stroke-width="22.5"/>
<path d="M763 0 H583 V1147 Q518 1085 412.5 1023 T223 930 V1104 Q374 1175 487 1276 T647 1472 H763 Z" transform="translate(414.76,1062.90) scale(0.01333,-0.01333)" fill="#000000" stroke="#000000" stroke-width="22.5"/>
<text x="429.94" y="1062.90" font-size="27.3" fill="#000000" text-anchor="start" font-weight="normal" stroke="#000000" stroke-width="0.3" >2</text>
<path d="M763 0 H583 V1147 Q518 1085 412.5 1023 T223 930 V1104 Q374 1175 487 1276 T647 1472 H763 Z" transform="translate(458.25,1062.90) scale(0.01333,-0.01333)" fill="#000000" stroke="#000000" stroke-width="22.5"/>
<text x="473.43" y="1062.90" font-size="27.3" fill="#000000" text-anchor="start" font-weight="normal" stroke="#000000" stroke-width="0.3" >3</text>
<path d="M763 0 H583 V1147 Q518 1085 412.5 1023 T223 930 V1104 Q374 1175 487 1276 T647 1472 H763 Z" transform="translate(500.63,1063.90) scale(0.01333,-0.01333)" fill="#000000" stroke="#000000" stroke-width="22.5"/>
<text x="515.81" y="1063.90" font-size="27.3" fill="#000000" text-anchor="start" font-weight="normal" stroke="#000000" stroke-width="0.3" >4</text>
<text x="561.79" y="1062.90" font-size="27.3" fill="#000000" text-anchor="middle" font-weight="normal" stroke="#000000" stroke-width="0.3" >5</text>
<text x="605.37" y="1061.80" font-size="27.3" fill="#000000" text-anchor="middle" font-weight="normal" stroke="#000000" stroke-width="0.3" >6</text>
<text x="648.46" y="1063.50" font-size="27.3" fill="#000000" text-anchor="middle" font-weight="normal" stroke="#000000" stroke-width="0.3" >7</text>
<text x="691.94" y="1064.30" font-size="27.3" fill="#000000" text-anchor="middle" font-weight="normal" stroke="#000000" stroke-width="0.3" >8</text>
<path d="M763 0 H583 V1147 Q518 1085 412.5 1023 T223 930 V1104 Q374 1175 487 1276 T647 1472 H763 Z" transform="translate(718.84,1063.90) scale(0.01333,-0.01333)" fill="#000000" stroke="#000000" stroke-width="22.5"/>
<text x="734.02" y="1063.90" font-size="27.3" fill="#000000" text-anchor="start" font-weight="normal" stroke="#000000" stroke-width="0.3" >5</text>
<path d="M763 0 H583 V1147 Q518 1085 412.5 1023 T223 930 V1104 Q374 1175 487 1276 T647 1472 H763 Z" transform="translate(762.33,1063.90) scale(0.01333,-0.01333)" fill="#000000" stroke="#000000" stroke-width="22.5"/>
<text x="777.51" y="1063.90" font-size="27.3" fill="#000000" text-anchor="start" font-weight="normal" stroke="#000000" stroke-width="0.3" >6</text>
<path d="M763 0 H583 V1147 Q518 1085 412.5 1023 T223 930 V1104 Q374 1175 487 1276 T647 1472 H763 Z" transform="translate(805.31,1062.50) scale(0.01333,-0.01333)" fill="#000000" stroke="#000000" stroke-width="22.5"/>
<text x="820.49" y="1062.50" font-size="27.3" fill="#000000" text-anchor="start" font-weight="normal" stroke="#000000" stroke-width="0.3" >7</text>
<path d="M763 0 H583 V1147 Q518 1085 412.5 1023 T223 930 V1104 Q374 1175 487 1276 T647 1472 H763 Z" transform="translate(847.89,1063.30) scale(0.01333,-0.01333)" fill="#000000" stroke="#000000" stroke-width="22.5"/>
<text x="863.07" y="1063.30" font-size="27.3" fill="#000000" text-anchor="start" font-weight="normal" stroke="#000000" stroke-width="0.3" >8</text>
<path d="M763 0 H583 V1147 Q518 1085 412.5 1023 T223 930 V1104 Q374 1175 487 1276 T647 1472 H763 Z" transform="translate(890.98,1062.50) scale(0.01333,-0.01333)" fill="#000000" stroke="#000000" stroke-width="22.5"/>
<text x="906.15" y="1062.50" font-size="27.3" fill="#000000" text-anchor="start" font-weight="normal" stroke="#000000" stroke-width="0.3" >9</text>
<text x="951.84" y="1062.90" font-size="27.3" fill="#000000" text-anchor="middle" font-weight="normal" stroke="#000000" stroke-width="0.3" >20</text>
<text x="544.50" y="1099.50" font-size="34.0" fill="#000000" text-anchor="middle" font-weight="normal" stroke="#000000" stroke-width="0.3" >Location</text>
<rect x="993.90" y="93.10" width="384.10" height="437.90" fill="none" stroke="#262626" stroke-width="3.5" />
<line x1="1041.50" y1="93.10" x2="1041.50" y2="82.70" stroke="#262626" stroke-width="1.2" />
<line x1="1041.50" y1="531.00" x2="1041.50" y2="545.90" stroke="#262626" stroke-width="3.0" />
<line x1="1137.50" y1="93.10" x2="1137.50" y2="82.70" stroke="#262626" stroke-width="1.2" />
<line x1="1137.50" y1="531.00" x2="1137.50" y2="545.90" stroke="#262626" stroke-width="3.0" />
<line x1="1233.80" y1="93.10" x2="1233.80" y2="82.70" stroke="#262626" stroke-width="1.2" />
<line x1="1233.80" y1="531.00" x2="1233.80" y2="545.90" stroke="#262626" stroke-width="3.0" />
<line x1="1330.10" y1="93.10" x2="1330.10" y2="82.70" stroke="#262626" stroke-width="1.2" />
<line x1="1330.10" y1="531.00" x2="1330.10" y2="545.90" stroke="#262626" stroke-width="3.0" />
<line x1="983.30" y1="511.00" x2="993.90" y2="511.00" stroke="#262626" stroke-width="3.5" />
<line x1="1378.00" y1="511.00" x2="1383.00" y2="511.00" stroke="#262626" stroke-width="3.2" />
<line x1="983.30" y1="431.40" x2="993.90" y2="431.40" stroke="#262626" stroke-width="3.5" />
<line x1="1378.00" y1="431.40" x2="1383.00" y2="431.40" stroke="#262626" stroke-width="3.2" />
<line x1="983.30" y1="351.80" x2="993.90" y2="351.80" stroke="#262626" stroke-width="3.5" />
<line x1="1378.00" y1="351.80" x2="1383.00" y2="351.80" stroke="#262626" stroke-width="3.2" />
<line x1="983.30" y1="272.20" x2="993.90" y2="272.20" stroke="#262626" stroke-width="3.5" />
<line x1="1378.00" y1="272.20" x2="1383.00" y2="272.20" stroke="#262626" stroke-width="3.2" />
<line x1="983.30" y1="192.60" x2="993.90" y2="192.60" stroke="#262626" stroke-width="3.5" />
<line x1="1378.00" y1="192.60" x2="1383.00" y2="192.60" stroke="#262626" stroke-width="3.2" />
<line x1="983.30" y1="113.00" x2="993.90" y2="113.00" stroke="#262626" stroke-width="3.5" />
<line x1="1378.00" y1="113.00" x2="1383.00" y2="113.00" stroke="#262626" stroke-width="3.2" />
<line x1="1041.50" y1="145.64" x2="1041.50" y2="113.00" stroke="#ff00ff" stroke-width="3.2" stroke-dasharray="7.35 7.33"/>
<line x1="1041.50" y1="494.48" x2="1041.50" y2="455.28" stroke="#ff00ff" stroke-width="3.2" stroke-dasharray="7.35 7.33"/>
<rect x="1017.70" y="145.64" width="47.60" height="309.64" fill="none" stroke="#ff00ff" stroke-width="3.1" stroke-linejoin="round"/>
<rect x="1016.20" y="142.04" width="50.60" height="7.20" fill="#ff00ff" stroke="none" stroke-width="0" rx="1.2"/>
<rect x="1016.20" y="451.68" width="50.60" height="4.20" fill="#ff00ff" stroke="none" stroke-width="0" />
<path d="M1017.40 455.28 H1066.80 V457.88 Q1066.80 458.88 1065.80 458.88 H1017.40 Z" fill="#ff00ff"/>
<rect x="1016.20" y="208.38" width="50.60" height="14.60" fill="#ff00ff" stroke="none" stroke-width="0" />
<rect x="1029.20" y="109.25" width="24.60" height="7.50" fill="#ff00ff" stroke="none" stroke-width="0" />
<rect x="1029.20" y="490.73" width="24.60" height="7.50" fill="#ff00ff" stroke="none" stroke-width="0" />
<line x1="1137.50" y1="152.80" x2="1137.50" y2="113.00" stroke="#000000" stroke-width="3.2" stroke-dasharray="7.35 7.33"/>
<line x1="1137.50" y1="511.00" x2="1137.50" y2="487.12" stroke="#000000" stroke-width="3.2" stroke-dasharray="7.35 7.33"/>
<rect x="1113.70" y="152.80" width="47.60" height="334.32" fill="none" stroke="#000000" stroke-width="3.1" stroke-linejoin="round"/>
<rect x="1112.20" y="149.20" width="50.60" height="7.20" fill="#000000" stroke="none" stroke-width="0" rx="1.2"/>
<rect x="1112.20" y="483.52" width="50.60" height="4.20" fill="#000000" stroke="none" stroke-width="0" />
<path d="M1113.40 487.12 H1162.80 V489.72 Q1162.80 490.72 1161.80 490.72 H1113.40 Z" fill="#000000"/>
<rect x="1112.20" y="218.73" width="50.60" height="14.60" fill="#000000" stroke="none" stroke-width="0" />
<rect x="1125.20" y="109.25" width="24.60" height="7.50" fill="#000000" stroke="none" stroke-width="0" />
<rect x="1125.20" y="507.25" width="24.60" height="7.50" fill="#000000" stroke="none" stroke-width="0" />
<line x1="1233.80" y1="128.92" x2="1233.80" y2="113.00" stroke="#0000ff" stroke-width="3.2" />
<line x1="1233.80" y1="256.28" x2="1233.80" y2="208.12" stroke="#0000ff" stroke-width="3.2" stroke-dasharray="7.35 7.33"/>
<rect x="1210.00" y="128.92" width="47.60" height="79.20" fill="none" stroke="#0000ff" stroke-width="3.1" stroke-linejoin="round"/>
<rect x="1208.50" y="125.32" width="50.60" height="7.20" fill="#0000ff" stroke="none" stroke-width="0" rx="1.2"/>
<rect x="1208.50" y="204.52" width="50.60" height="4.20" fill="#0000ff" stroke="none" stroke-width="0" />
<path d="M1209.70 208.12 H1259.10 V210.72 Q1259.10 211.72 1258.10 211.72 H1209.70 Z" fill="#0000ff"/>
<rect x="1208.50" y="137.94" width="50.60" height="14.60" fill="#0000ff" stroke="none" stroke-width="0" />
<rect x="1221.50" y="109.25" width="24.60" height="7.50" fill="#0000ff" stroke="none" stroke-width="0" />
<rect x="1221.50" y="252.53" width="24.60" height="7.50" fill="#0000ff" stroke="none" stroke-width="0" />
<line x1="1330.10" y1="264.24" x2="1330.10" y2="162.75" stroke="#00ff00" stroke-width="3.2" stroke-dasharray="7.35 7.33"/>
<line x1="1330.10" y1="493.89" x2="1330.10" y2="511.00" stroke="#00ff00" stroke-width="3.2" />
<rect x="1306.30" y="264.24" width="47.60" height="229.65" fill="none" stroke="#00ff00" stroke-width="3.1" stroke-linejoin="round"/>
<rect x="1304.80" y="260.64" width="50.60" height="7.20" fill="#00ff00" stroke="none" stroke-width="0" rx="1.2"/>
<rect x="1304.80" y="490.29" width="50.60" height="4.20" fill="#00ff00" stroke="none" stroke-width="0" />
<path d="M1306.00 493.89 H1355.40 V496.49 Q1355.40 497.49 1354.40 497.49 H1306.00 Z" fill="#00ff00"/>
<rect x="1304.80" y="463.90" width="50.60" height="14.60" fill="#00ff00" stroke="none" stroke-width="0" />
<rect x="1317.80" y="159.00" width="24.60" height="7.50" fill="#00ff00" stroke="none" stroke-width="0" />
<rect x="1317.80" y="507.25" width="24.60" height="7.50" fill="#00ff00" stroke="none" stroke-width="0" />
<circle cx="1233.8" cy="392.2" r="7.7" fill="#0000ff"/>
<rect x="993.50" y="591.50" width="384.50" height="437.80" fill="none" stroke="#262626" stroke-width="3.5" />
<line x1="1046.50" y1="591.50" x2="1046.50" y2="576.40" stroke="#262626" stroke-width="3.0" />
<line x1="1046.50" y1="1029.30" x2="1046.50" y2="1044.50" stroke="#262626" stroke-width="3.0" />
<line x1="1142.40" y1="591.50" x2="1142.40" y2="576.40" stroke="#262626" stroke-width="3.0" />
<line x1="1142.40" y1="1029.30" x2="1142.40" y2="1044.50" stroke="#262626" stroke-width="3.0" />
<line x1="1238.40" y1="591.50" x2="1238.40" y2="576.40" stroke="#262626" stroke-width="3.0" />
<line x1="1238.40" y1="1029.30" x2="1238.40" y2="1044.50" stroke="#262626" stroke-width="3.0" />
<line x1="1334.70" y1="591.50" x2="1334.70" y2="576.40" stroke="#262626" stroke-width="3.0" />
<line x1="1334.70" y1="1029.30" x2="1334.70" y2="1044.50" stroke="#262626" stroke-width="3.0" />
<line x1="983.30" y1="1029.30" x2="999.00" y2="1029.30" stroke="#262626" stroke-width="3.5" />
<line x1="1378.00" y1="1029.30" x2="1387.40" y2="1029.30" stroke="#262626" stroke-width="3.5" />
<line x1="983.30" y1="956.33" x2="999.00" y2="956.33" stroke="#262626" stroke-width="3.5" />
<line x1="1378.00" y1="956.33" x2="1384.60" y2="956.33" stroke="#262626" stroke-width="3.2" />
<line x1="983.30" y1="883.37" x2="999.00" y2="883.37" stroke="#262626" stroke-width="3.5" />
<line x1="1378.00" y1="883.37" x2="1384.60" y2="883.37" stroke="#262626" stroke-width="3.2" />
<line x1="983.30" y1="810.40" x2="999.00" y2="810.40" stroke="#262626" stroke-width="3.5" />
<line x1="1378.00" y1="810.40" x2="1384.60" y2="810.40" stroke="#262626" stroke-width="3.2" />
<line x1="983.30" y1="737.43" x2="999.00" y2="737.43" stroke="#262626" stroke-width="3.5" />
<line x1="1378.00" y1="737.43" x2="1384.60" y2="737.43" stroke="#262626" stroke-width="3.2" />
<line x1="983.30" y1="664.47" x2="999.00" y2="664.47" stroke="#262626" stroke-width="3.5" />
<line x1="1378.00" y1="664.47" x2="1384.60" y2="664.47" stroke="#262626" stroke-width="3.2" />
<line x1="983.30" y1="591.50" x2="999.00" y2="591.50" stroke="#262626" stroke-width="3.5" />
<line x1="1378.00" y1="591.50" x2="1387.40" y2="591.50" stroke="#262626" stroke-width="3.5" />
<line x1="1046.50" y1="832.29" x2="1046.50" y2="620.69" stroke="#ff00ff" stroke-width="3.2" stroke-dasharray="7.35 7.33"/>
<line x1="1046.50" y1="1014.71" x2="1046.50" y2="985.52" stroke="#ff00ff" stroke-width="3.2" stroke-dasharray="7.35 7.33"/>
<rect x="1022.70" y="832.29" width="47.60" height="153.23" fill="none" stroke="#ff00ff" stroke-width="3.1" stroke-linejoin="round"/>
<rect x="1021.20" y="828.69" width="50.60" height="7.20" fill="#ff00ff" stroke="none" stroke-width="0" rx="1.2"/>
<rect x="1021.20" y="981.92" width="50.60" height="4.20" fill="#ff00ff" stroke="none" stroke-width="0" />
<path d="M1022.40 985.52 H1071.80 V988.12 Q1071.80 989.12 1070.80 989.12 H1022.40 Z" fill="#ff00ff"/>
<rect x="1021.20" y="934.44" width="50.60" height="14.60" fill="#ff00ff" stroke="none" stroke-width="0" />
<rect x="1034.20" y="616.94" width="24.60" height="7.50" fill="#ff00ff" stroke="none" stroke-width="0" />
<rect x="1034.20" y="1010.96" width="24.60" height="7.50" fill="#ff00ff" stroke="none" stroke-width="0" />
<line x1="1142.40" y1="824.99" x2="1142.40" y2="693.65" stroke="#000000" stroke-width="3.2" stroke-dasharray="7.35 7.33"/>
<line x1="1142.40" y1="1014.71" x2="1142.40" y2="985.52" stroke="#000000" stroke-width="3.2" stroke-dasharray="7.35 7.33"/>
<rect x="1118.60" y="824.99" width="47.60" height="160.53" fill="none" stroke="#000000" stroke-width="3.1" stroke-linejoin="round"/>
<rect x="1117.10" y="821.39" width="50.60" height="7.20" fill="#000000" stroke="none" stroke-width="0" rx="1.2"/>
<rect x="1117.10" y="981.92" width="50.60" height="4.20" fill="#000000" stroke="none" stroke-width="0" />
<path d="M1118.30 985.52 H1167.70 V988.12 Q1167.70 989.12 1166.70 989.12 H1118.30 Z" fill="#000000"/>
<rect x="1117.10" y="949.03" width="50.60" height="14.60" fill="#000000" stroke="none" stroke-width="0" />
<rect x="1130.10" y="689.90" width="24.60" height="7.50" fill="#000000" stroke="none" stroke-width="0" />
<rect x="1130.10" y="1010.96" width="24.60" height="7.50" fill="#000000" stroke="none" stroke-width="0" />
<line x1="1238.40" y1="781.21" x2="1238.40" y2="620.69" stroke="#0000ff" stroke-width="3.2" stroke-dasharray="7.35 7.33"/>
<line x1="1238.40" y1="985.52" x2="1238.40" y2="897.96" stroke="#0000ff" stroke-width="3.2" stroke-dasharray="7.35 7.33"/>
<rect x="1214.60" y="781.21" width="47.60" height="116.75" fill="none" stroke="#0000ff" stroke-width="3.1" stroke-linejoin="round"/>
<rect x="1213.10" y="777.61" width="50.60" height="7.20" fill="#0000ff" stroke="none" stroke-width="0" rx="1.2"/>
<rect x="1213.10" y="894.36" width="50.60" height="4.20" fill="#0000ff" stroke="none" stroke-width="0" />
<path d="M1214.30 897.96 H1263.70 V900.56 Q1263.70 901.56 1262.70 901.56 H1214.30 Z" fill="#0000ff"/>
<rect x="1213.10" y="824.99" width="50.60" height="14.60" fill="#0000ff" stroke="none" stroke-width="0" />
<rect x="1226.10" y="616.94" width="24.60" height="7.50" fill="#0000ff" stroke="none" stroke-width="0" />
<rect x="1226.10" y="981.77" width="24.60" height="7.50" fill="#0000ff" stroke="none" stroke-width="0" />
<line x1="1334.70" y1="970.93" x2="1334.70" y2="927.15" stroke="#00ff00" stroke-width="3.2" stroke-dasharray="7.35 7.33"/>
<rect x="1310.90" y="970.93" width="47.60" height="43.78" fill="none" stroke="#00ff00" stroke-width="3.1" stroke-linejoin="round"/>
<rect x="1309.40" y="967.33" width="50.60" height="7.20" fill="#00ff00" stroke="none" stroke-width="0" rx="1.2"/>
<rect x="1309.40" y="1011.11" width="50.60" height="4.20" fill="#00ff00" stroke="none" stroke-width="0" />
<path d="M1310.60 1014.71 H1360.00 V1017.31 Q1360.00 1018.31 1359.00 1018.31 H1310.60 Z" fill="#00ff00"/>
<rect x="1309.40" y="978.22" width="50.60" height="14.60" fill="#00ff00" stroke="none" stroke-width="0" />
<rect x="1322.40" y="923.40" width="24.60" height="7.50" fill="#00ff00" stroke="none" stroke-width="0" />
<rect x="1322.40" y="1010.96" width="24.60" height="7.50" fill="#00ff00" stroke="none" stroke-width="0" />
<text x="1047.20" y="1067.80" font-size="27.2" fill="#000000" text-anchor="middle" font-weight="normal" stroke="#000000" stroke-width="0.3" >MPA</text>
<text x="1145.90" y="1067.80" font-size="27.1" fill="#000000" text-anchor="middle" font-weight="normal" stroke="#000000" stroke-width="0.3" >Fished</text>
<text x="1238.00" y="1069.80" font-size="27.2" fill="#000000" text-anchor="middle" font-weight="normal" stroke="#000000" stroke-width="0.3" >Reef</text>
<text x="1332.80" y="1068.30" font-size="27.4" fill="#000000" text-anchor="middle" font-weight="normal" stroke="#000000" stroke-width="0.3" >Seagrass</text>
<text x="1194.00" y="1100.40" font-size="34.5" fill="#000000" text-anchor="middle" font-weight="normal" stroke="#000000" stroke-width="0.3" >Factor</text>
<line x1="539.0" y1="94.3" x2="539.0" y2="533.4" stroke="#ff00ff" stroke-width="4.1" stroke-dasharray="3.9 3.871"/>
<line x1="539.0" y1="531.1" x2="539.0" y2="1027.6" stroke="#ff00ff" stroke-width="4.1" stroke-dasharray="4.08 4.182"/>
</svg>
</body></html>
